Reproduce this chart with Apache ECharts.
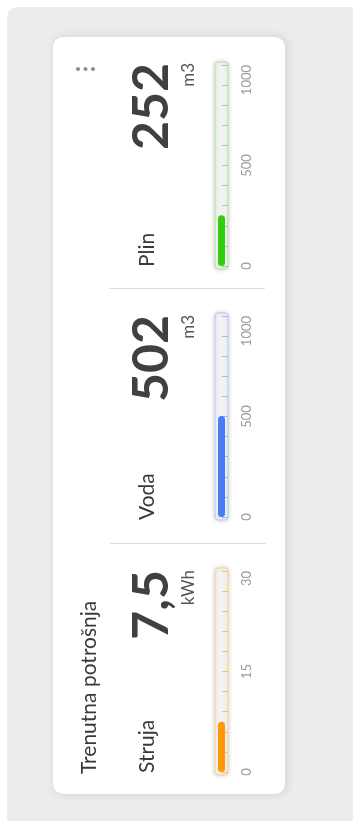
<!DOCTYPE html>
<html>
<head>
<meta charset="utf-8">
<script src="https://cdn.jsdelivr.net/npm/echarts@6/dist/echarts.min.js"></script>
<style>
  html, body { margin: 0; padding: 0; background: #ffffff; }
  #chart { width: 353px; height: 821px; }
</style>
</head>
<body>
<div id="chart"></div>
<script>
// Current consumption per utility
const categories = ['Struja', 'Voda', 'Plin'];
const values = [7.5, 502, 252];
const units = ['kWh', 'm3', 'm3'];
const axisMax = [30, 1000, 1000];
const tickStep = [3, 100, 100];
const labelStep = [15, 500, 500];
const title = 'Trenutna potrošnja';

// Styling per utility
const barColors = ['#ff9800', '#4a7cf3', '#33cc0f'];
const tubeColors = ['#ffd18a', '#b3c8fb', '#aee6a0'];
const tickColors = ['#ffbf5e', '#9db8f8', '#94dc82'];

// Layout: the card is drawn turned a quarter turn, each gauge runs upward
const gridTops = [571, 316, 65];
const gridHeight = 201;
const tubeLeft = 215;
const tubeWidth = 13;
const labelStartY = [773, 520, 267];
const valueEndY = [570, 315, 63];
const FONT = 'Lato, "Open Sans", sans-serif';
const ROT = Math.PI / 2;

const chart = echarts.init(document.getElementById('chart'), null, { renderer: 'canvas' });

const grid = [], xAxis = [], yAxis = [], series = [];
categories.forEach((name, i) => {
  grid.push({ left: tubeLeft, top: gridTops[i], width: tubeWidth, height: gridHeight, containLabel: false });
  xAxis.push({ type: 'category', gridIndex: i, data: [name], show: false });
  yAxis.push({
    type: 'value', gridIndex: i, min: 0, max: axisMax[i], interval: tickStep[i],
    position: 'right', z: 5,
    axisLine: { show: false },
    splitLine: { show: false },
    axisTick: { show: true, inside: true, length: 6, lineStyle: { color: tickColors[i], width: 1 } },
    axisLabel: {
      show: true, rotate: 90, margin: 12, fontSize: 13, fontFamily: FONT, color: '#9a9a9a',
      alignMaxLabel: 'right',
      formatter: v => (v % labelStep[i] === 0 ? String(v) : '')
    }
  });
  // gauge tube spanning the full scale
  series.push({
    type: 'custom', xAxisIndex: i, yAxisIndex: i, z: 2, silent: true,
    data: [[0, axisMax[i]]],
    renderItem: (params, api) => {
      const top = api.coord([0, api.value(1)]);
      const bottom = api.coord([0, 0]);
      const w = api.size([1, 0])[0];
      return {
        type: 'rect',
        shape: { x: top[0] - w / 2, y: top[1] - 3, width: w, height: bottom[1] - top[1] + 6, r: 3 },
        style: {
          fill: '#f3f3f3', stroke: tubeColors[i], lineWidth: 1,
          shadowBlur: 5, shadowColor: 'rgba(0,0,0,0.18)'
        }
      };
    }
  });
  // current reading, drawn over the scale ticks
  series.push({
    type: 'bar', xAxisIndex: i, yAxisIndex: i, z: 6, silent: true,
    data: [values[i]], barWidth: 7,
    itemStyle: { color: barColors[i], borderRadius: 3.5 }
  });
});

const graphics = [
  // page panel
  { type: 'rect', z: -10, shape: { x: 7, y: 7, width: 380, height: 840, r: 10 }, style: { fill: '#ececec' } },
  // card
  { type: 'rect', z: -9, shape: { x: 53, y: 37, width: 232, height: 757, r: 10 },
    style: { fill: '#ffffff', shadowBlur: 10, shadowOffsetX: 2, shadowColor: 'rgba(0,0,0,0.12)' } },
  // separators between utilities
  { type: 'line', z: -8, shape: { x1: 109, y1: 288.5, x2: 265, y2: 288.5 }, style: { stroke: '#dedede', lineWidth: 1 } },
  { type: 'line', z: -8, shape: { x1: 110, y1: 543.5, x2: 266, y2: 543.5 }, style: { stroke: '#dedede', lineWidth: 1 } },
  // menu dots
  { type: 'circle', shape: { cx: 78, cy: 69, r: 2 }, style: { fill: '#8c8c8c' } },
  { type: 'circle', shape: { cx: 85.5, cy: 69, r: 2 }, style: { fill: '#8c8c8c' } },
  { type: 'circle', shape: { cx: 93, cy: 69, r: 2 }, style: { fill: '#8c8c8c' } },
  // card title
  { type: 'text', x: 89.5, y: 774, rotation: ROT,
    style: { text: title, fontSize: 21, fontFamily: FONT, fill: '#3a3a3a', align: 'left', verticalAlign: 'middle' } }
];

categories.forEach((name, i) => {
  graphics.push({ type: 'text', x: 147.5, y: labelStartY[i], rotation: ROT,
    style: { text: name, fontSize: 21, fontFamily: FONT, fill: '#3a3a3a', align: 'left', verticalAlign: 'middle' } });
  graphics.push({ type: 'text', x: 151.5, y: valueEndY[i], rotation: ROT,
    style: { text: String(values[i]).replace('.', ','), fontSize: 50, fontWeight: 'bold', fontFamily: FONT,
      fill: '#404040', align: 'right', verticalAlign: 'middle' } });
  graphics.push({ type: 'text', x: 189, y: valueEndY[i], rotation: ROT,
    style: { text: units[i], fontSize: 17, fontFamily: FONT, fill: '#555555', align: 'right', verticalAlign: 'middle' } });
});

chart.setOption({
  animation: false,
  backgroundColor: '#ffffff',
  grid, xAxis, yAxis, series,
  graphic: { elements: graphics }
});
</script>
</body>
</html>
